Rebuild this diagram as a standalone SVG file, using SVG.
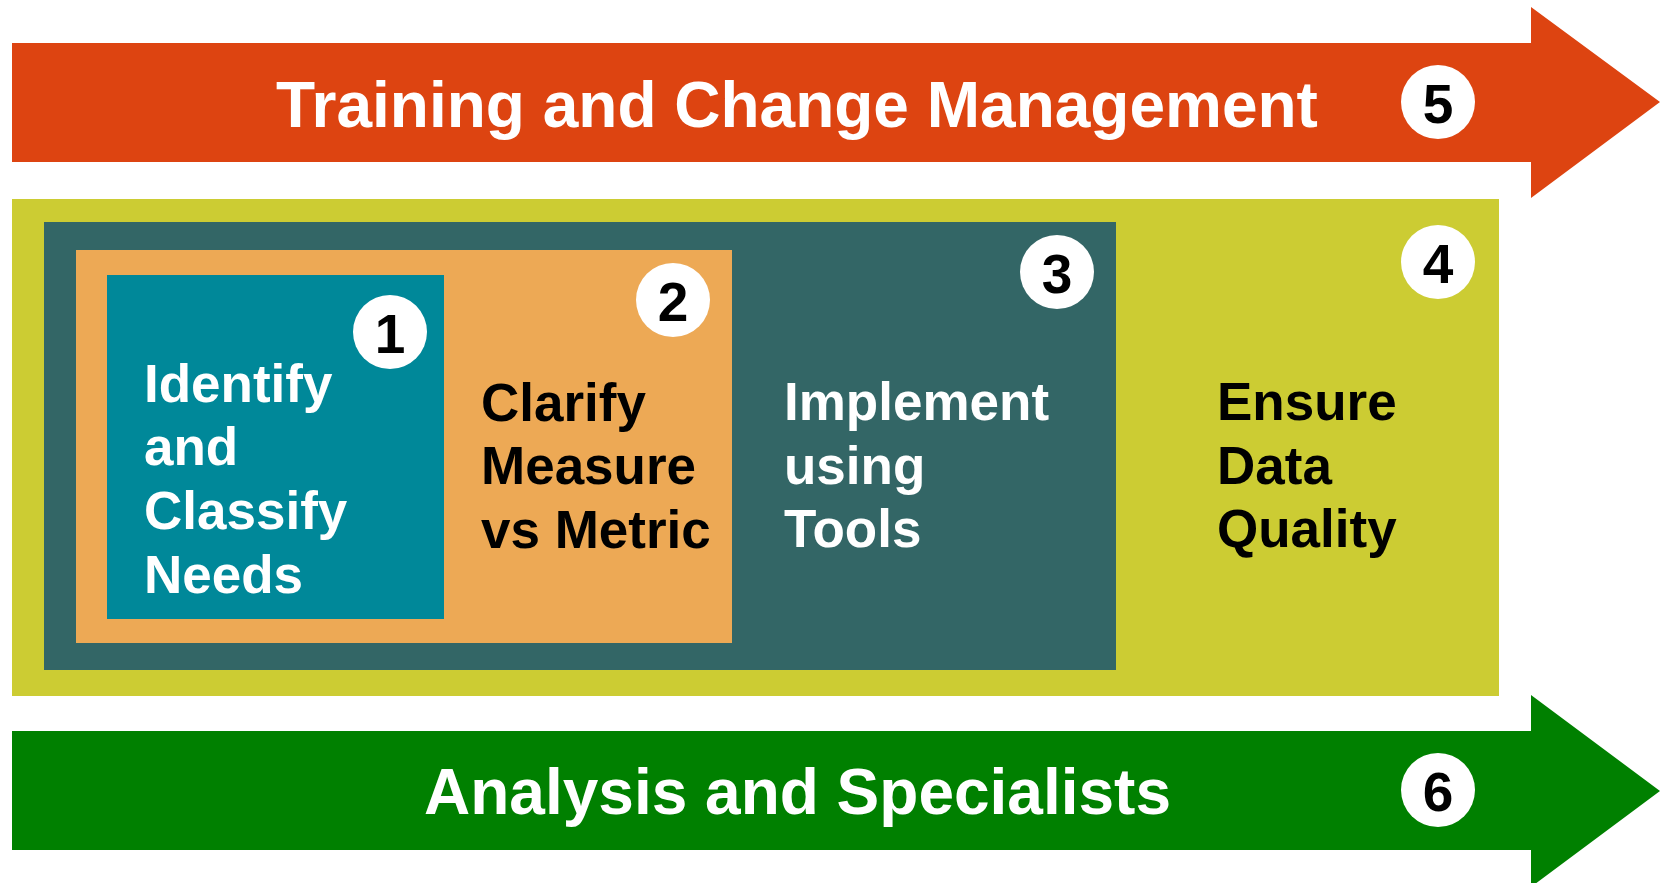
<svg xmlns="http://www.w3.org/2000/svg" width="1665" height="883" viewBox="0 0 1665 883">
<style>
.t{font-family:"Liberation Sans",Arial,sans-serif;font-weight:bold}
.big{font-size:64px;fill:#fff}
.mid{font-size:53px}
.w{fill:#fff}
.k{fill:#000}
.num{font-family:"Liberation Sans",Arial,sans-serif;font-weight:bold;font-size:55px;fill:#000;text-anchor:middle}
.c{fill:#fff}
</style>
<rect width="1665" height="883" fill="#fff"/>
<g id="arrow5">
<polygon points="12,43 1531,43 1531,7 1660,102 1531,198 1531,162 12,162" fill="#DD4411"/>
<text class="t big" x="276" y="127">Training and Change Management</text>
<circle class="c" cx="1438" cy="102" r="37"/>
<text class="num" x="1438" y="123">5</text>
</g>
<g id="box4">
<rect x="12" y="199" width="1487" height="497" fill="#CCCC33"/>
<circle class="c" cx="1438" cy="262" r="37"/>
<text class="num" x="1438" y="283">4</text>
<text class="t mid k" x="1217"><tspan x="1217" y="420">Ensure</tspan><tspan x="1217" y="484">Data</tspan><tspan x="1217" y="547">Quality</tspan></text>
</g>
<g id="box3">
<rect x="44" y="222" width="1072" height="448" fill="#336666"/>
<circle class="c" cx="1057" cy="272" r="37"/>
<text class="num" x="1057" y="293">3</text>
<text class="t mid w" x="784"><tspan x="784" y="420">Implement</tspan><tspan x="784" y="484">using</tspan><tspan x="784" y="547">Tools</tspan></text>
</g>
<g id="box2">
<rect x="76" y="250" width="656" height="393" fill="#EDA955"/>
<circle class="c" cx="673" cy="300" r="37"/>
<text class="num" x="673" y="321">2</text>
<text class="t mid k" x="481"><tspan x="481" y="421">Clarify</tspan><tspan x="481" y="484">Measure</tspan><tspan x="481" y="548">vs Metric</tspan></text>
</g>
<g id="box1">
<rect x="107" y="275" width="337" height="344" fill="#008899"/>
<circle class="c" cx="390" cy="332" r="37"/>
<text class="num" x="390" y="353">1</text>
<text class="t mid w" x="144"><tspan x="144" y="402">Identify</tspan><tspan x="144" y="465">and</tspan><tspan x="144" y="529">Classify</tspan><tspan x="144" y="593">Needs</tspan></text>
</g>
<g id="arrow6">
<polygon points="12,731 1531,731 1531,695 1660,791 1531,887 1531,850 12,850" fill="#008000"/>
<text class="t big" x="424" y="814">Analysis and Specialists</text>
<circle class="c" cx="1438" cy="790" r="37"/>
<text class="num" x="1438" y="811">6</text>
</g>
<g id="connectors"></g>
</svg>
